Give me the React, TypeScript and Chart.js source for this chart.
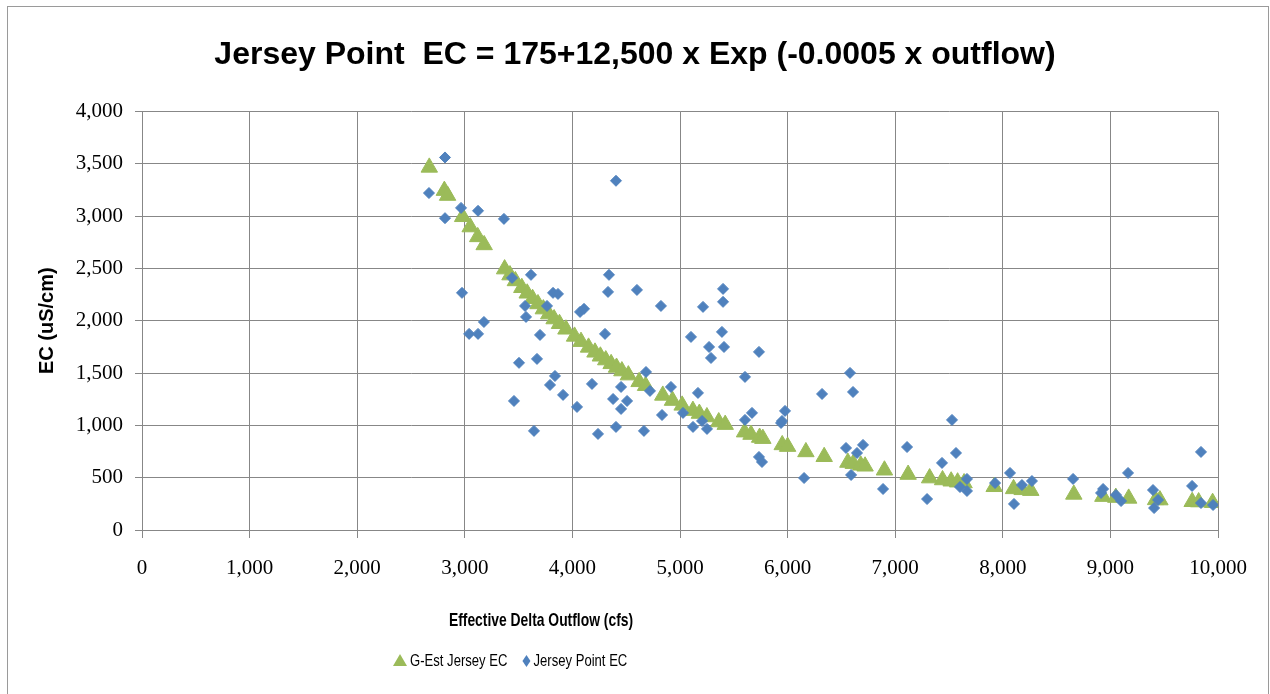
import React, { useEffect, useRef } from 'react';
import { Chart, registerables } from 'chart.js';

Chart.register(...registerables);

// ---------- Data ----------
const chartTitle = 'Jersey Point  EC = 175+12,500 x Exp (-0.0005 x outflow)';
const xAxisTitle = 'Effective Delta Outflow (cfs)';
const yAxisTitle = 'EC (uS/cm)';
const seriesLabels = ['G-Est Jersey EC', 'Jersey Point EC'];

const xTickMin = 0;
const xTickMax = 10000;
const xTickStep = 1000;
const yTickMin = 0;
const yTickMax = 4000;
const yTickStep = 500;

// G-Est Jersey EC (green triangles)
const estOutflow = [
  2670, 2810, 2840, 2980, 3050, 3120, 3180, 3370, 3420, 3470, 3530, 3580, 3630, 3680, 3730, 3780,
  3830, 3880, 3940, 4020, 4080, 4150, 4210, 4260, 4310, 4360, 4410, 4460, 4520, 4620, 4680, 4840,
  4930, 5020, 5120, 5180, 5250, 5360, 5420, 5600, 5660, 5740, 5770, 5950, 6000, 6170, 6340, 6560,
  6610, 6680, 6720, 6900, 7120, 7320, 7440, 7520, 7580, 7640, 7920, 8100, 8180, 8260, 8660, 8930,
  9050, 9170, 9420, 9460, 9760, 9820, 9950,
];
const estEC = [
  3465, 3243, 3196, 2993, 2895, 2801, 2724, 2493, 2436, 2380, 2315, 2262, 2210, 2160, 2111, 2063,
  2016, 1971, 1918, 1850, 1800, 1745, 1698, 1660, 1624, 1588, 1553, 1519, 1480, 1416, 1379, 1286,
  1237, 1191, 1141, 1113, 1080, 1032, 1007, 935, 912, 884, 873, 813, 797, 746, 700, 645,
  634, 618, 609, 571, 530, 496, 478, 466, 457, 449, 413, 393, 384, 376, 340, 319,
  310, 302, 288, 286, 270, 267, 261,
];

// Jersey Point EC (blue diamonds)
const obsOutflow = [
  2816, 2667, 2816, 2965, 3123, 3364, 2974, 3040, 3123, 3178, 3439, 3615, 3560, 3569, 3764, 3820,
  3866, 4071, 4108, 4340, 4331, 4600, 4823, 5102, 3699, 4303, 3504, 3671, 3457, 3643, 3838, 3792,
  3913, 4043, 4182, 4238, 4378, 4452, 4452, 4508, 4405, 4665, 4684, 4721, 4833, 4916, 5028, 5121,
  5167, 4405, 5214, 5400, 5400, 5270, 5288, 5390, 5409, 5734, 5604, 5205, 5251, 5669, 5604, 5939,
  5948, 5976, 5734, 5762, 6320, 6580, 6608, 6153, 6543, 6645, 6701, 6590, 7110, 7528, 7565, 7435,
  6887, 7296, 7667, 7602, 7667, 7928, 8067, 8104, 8178, 8271, 8653, 8913, 8932, 9052, 9099, 9164,
  9396, 9443, 9406, 9759, 9842, 9842, 9954,
];
const obsEC = [
  3560, 3220, 2980, 3078, 3050, 2973, 2266, 1874, 1874, 1988, 2409, 2438, 2141, 2036, 2141, 2266,
  2256, 2084, 2113, 2438, 2275, 2294, 2141, 1845, 1864, 1874, 1597, 1635, 1233, 947, 1472, 1386,
  1291, 1176, 1396, 918, 1252, 1367, 1157, 1233, 985, 947, 1510, 1329, 1099, 1367, 1119, 985,
  1310, 3337, 2132, 2304, 2180, 1749, 1644, 1893, 1749, 1702, 1463, 1042, 966, 1119, 1052, 1023,
  1042, 1138, 698, 650, 1300, 1501, 1319, 497, 784, 736, 813, 526, 793, 1052, 736, 641,
  392, 296, 488, 411, 373, 449, 545, 249, 430, 468, 488, 354, 392, 335, 277, 545,
  382, 287, 210, 421, 746, 258, 239,
];

// ---------- Styles ----------
const GREEN = '#9BBB59';
const BLUE = '#4F81BD';
const GRID = '#878787';
const SANS = "'Liberation Sans', Arial, sans-serif";
const SERIF = "'Liberation Serif', 'Times New Roman', serif";
const TITLE_CONDENSE = 0.73; // horizontal squeeze to imitate the narrow Calibri look
const LEGEND_CONDENSE = 0.77;

const fmt = (v: number) => String(Math.round(v)).replace(/\B(?=(\d{3})+(?!\d))/g, ',');

const zip = (xs: number[], ys: number[]) => xs.map((x, i) => ({ x, y: ys[i] }));

const drawCondensed = (
  ctx: CanvasRenderingContext2D,
  text: string,
  x: number,
  y: number,
  k: number
) => {
  ctx.save();
  ctx.translate(x, y);
  ctx.scale(k, 1);
  ctx.fillText(text, 0, 0);
  ctx.restore();
  return ctx.measureText(text).width * k;
};

// Draws the x-axis title and the legend (placed off-centre as in the reference)
const bottomTexts = {
  id: 'bottomTexts',
  afterDraw(chart: any) {
    const { ctx, chartArea } = chart;
    ctx.save();
    ctx.fillStyle = '#000';
    ctx.textBaseline = 'middle';
    ctx.textAlign = 'center';
    ctx.font = `bold 19px ${SANS}`;
    drawCondensed(ctx, xAxisTitle, chartArea.left + 399, chartArea.bottom + 91, TITLE_CONDENSE);

    // legend
    ctx.textAlign = 'left';
    ctx.font = `17px ${SANS}`;
    const cy = chartArea.bottom + 130;
    let x = chartArea.left + 251;
    chart.data.datasets.forEach((ds: any) => {
      ctx.fillStyle = ds.backgroundColor;
      ctx.beginPath();
      let w;
      if (ds.pointStyle === 'triangle') {
        w = 14;
        ctx.moveTo(x + 7, cy - 6);
        ctx.lineTo(x + 14, cy + 6);
        ctx.lineTo(x, cy + 6);
      } else {
        w = 8;
        ctx.moveTo(x + 4, cy - 5);
        ctx.lineTo(x + 8, cy + 1);
        ctx.lineTo(x + 4, cy + 7);
        ctx.lineTo(x, cy + 1);
      }
      ctx.closePath();
      ctx.fill();
      ctx.fillStyle = '#000';
      const tx = x + w + 3;
      const tw = drawCondensed(ctx, ds.label, tx, cy + 1, LEGEND_CONDENSE);
      x = tx + tw + 15;
    });
    ctx.restore();
  },
};

export default function App() {
  const canvasRef = useRef<HTMLCanvasElement | null>(null);

  useEffect(() => {
    if (!canvasRef.current) return;
    const chart = new Chart(canvasRef.current, {
      type: 'scatter',
      data: {
        datasets: [
          {
            label: seriesLabels[0],
            data: zip(estOutflow, estEC),
            pointStyle: 'triangle',
            pointRadius: 9.5,
            backgroundColor: GREEN,
            borderColor: GREEN,
            borderWidth: 1,
            order: 1,
          },
          {
            label: seriesLabels[1],
            data: zip(obsOutflow, obsEC),
            pointStyle: 'rectRot',
            pointRadius: 5.5,
            backgroundColor: BLUE,
            borderColor: BLUE,
            borderWidth: 1,
            order: 0,
          },
        ],
      },
      options: {
        responsive: false,
        animation: false,
        events: [],
        layout: { padding: { left: 0, right: 0, top: 0, bottom: 0 } },
        plugins: {
          legend: { display: false },
          tooltip: { enabled: false },
          title: {
            display: true,
            text: chartTitle,
            color: '#000',
            font: { family: SANS, size: 32, weight: 'bold' },
            padding: { top: 36, bottom: 37 },
          },
        },
        scales: {
          x: {
            type: 'linear',
            min: xTickMin,
            max: xTickMax,
            afterFit: (s: any) => {
              s.height = 164;
            },
            ticks: {
              stepSize: xTickStep,
              autoSkip: false,
              maxRotation: 0,
              padding: 18,
              color: '#000',
              font: { family: SERIF, size: 21 },
              callback: (v: any) => fmt(Number(v)),
            },
            grid: { color: GRID, lineWidth: 1, tickLength: 8 },
            border: { color: GRID },
          },
          y: {
            type: 'linear',
            min: yTickMin,
            max: yTickMax,
            afterFit: (s: any) => {
              s.width = 142;
            },
            ticks: {
              stepSize: yTickStep,
              padding: 12,
              color: '#000',
              font: { family: SERIF, size: 21 },
              callback: (v: any) => fmt(Number(v)),
            },
            grid: { color: GRID, lineWidth: 1, tickLength: 7 },
            border: { color: GRID },
            title: {
              display: true,
              text: yAxisTitle,
              color: '#000',
              font: { family: SANS, size: 20, weight: 'bold' },
              padding: { top: 35, bottom: 0 },
            },
          },
          // empty right-hand margin (keeps the title centred on the whole chart)
          yMargin: {
            type: 'linear',
            position: 'right',
            display: true,
            afterFit: (s: any) => {
              s.width = 52;
            },
            ticks: { display: false },
            grid: { display: false, drawTicks: false },
            border: { display: false },
          },
        },
      },
      plugins: [bottomTexts],
    });
    return () => chart.destroy();
  }, []);

  return (
    <div
      style={{
        position: 'fixed',
        left: 0,
        top: 0,
        width: 1270,
        height: 694,
        overflow: 'hidden',
        background: '#fff',
      }}
    >
      <div
        style={{
          position: 'absolute',
          left: 7,
          top: 6,
          width: 1262,
          height: 700,
          border: '1px solid #9a9a9a',
          boxSizing: 'border-box',
        }}
      />
      <canvas
        ref={canvasRef}
        width={1270}
        height={694}
        style={{ position: 'absolute', left: 0, top: 0, width: 1270, height: 694 }}
      />
    </div>
  );
}
